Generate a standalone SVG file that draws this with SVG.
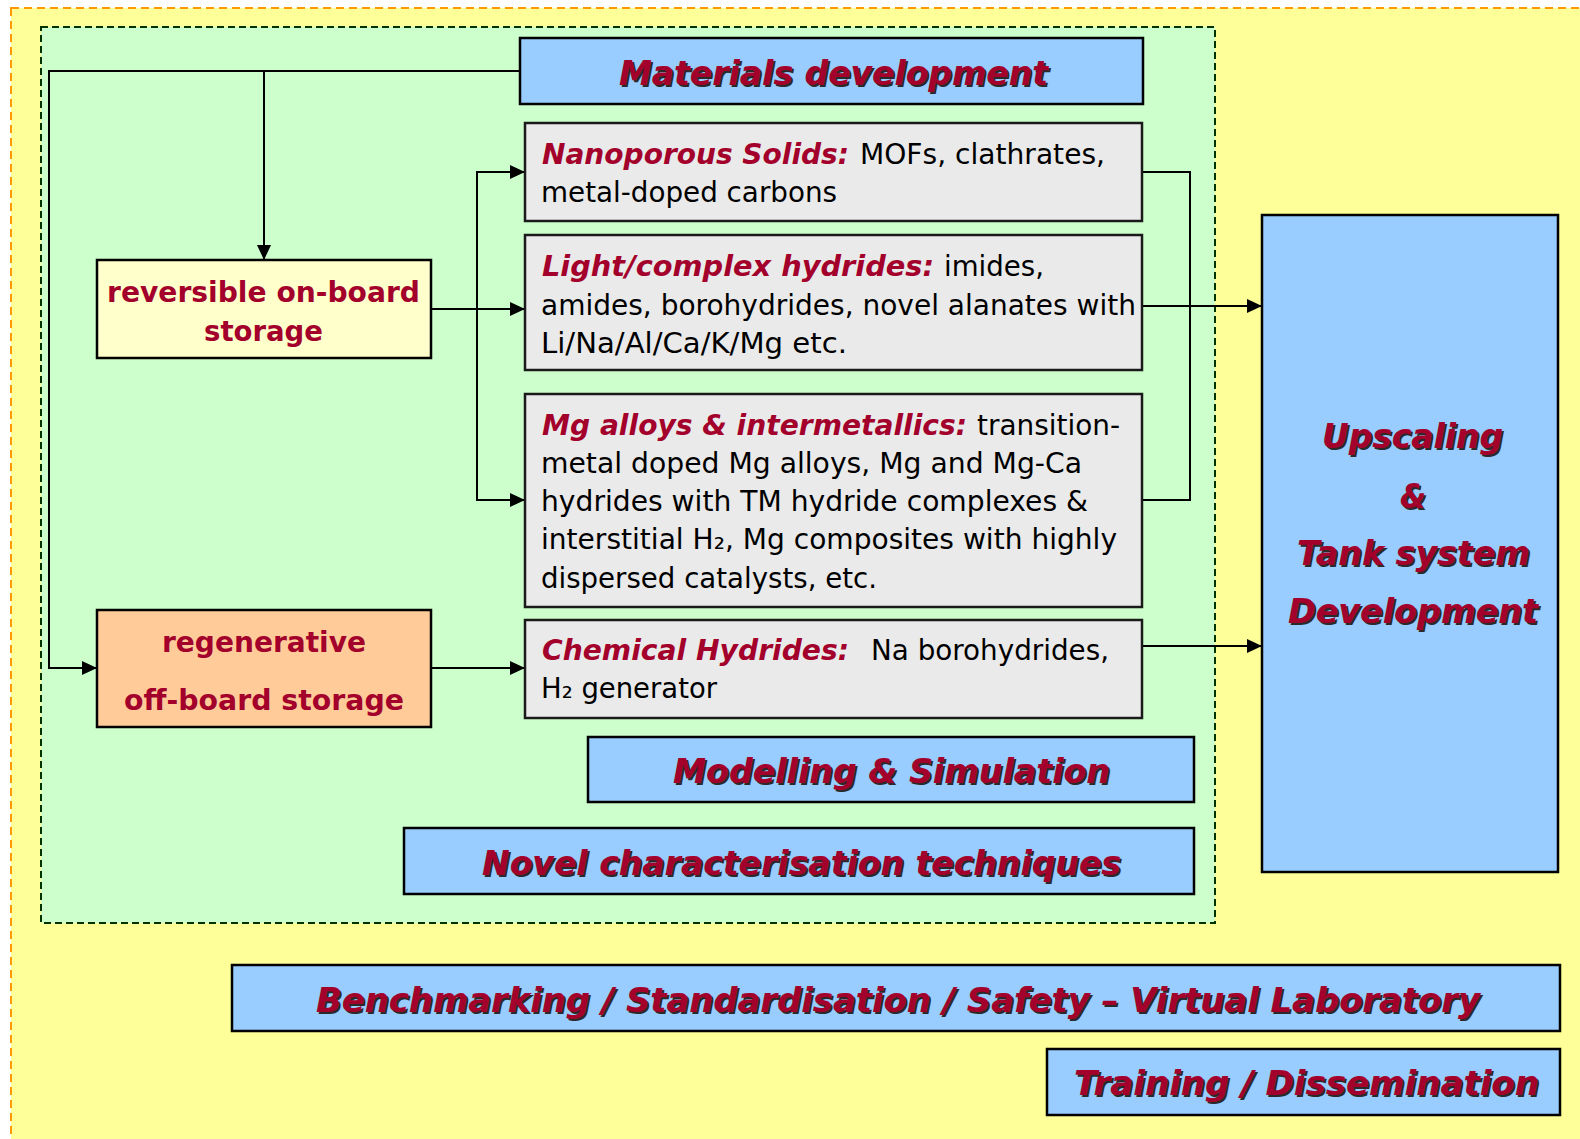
<svg xmlns="http://www.w3.org/2000/svg" width="1580" height="1139" viewBox="0 0 1580 1139">
<defs>
<marker id="arr" markerUnits="userSpaceOnUse" markerWidth="15" markerHeight="14" refX="15" refY="7" orient="auto">
<path d="M0,0 L15,7 L0,14 z" fill="#000"/>
</marker>
<style>
.box{stroke:#000;stroke-width:2.5}
.blue{fill:#99CCFF}
.gray{fill:#EAEAEA;stroke:#1a1a1a;stroke-width:2.5}
.title{font-family:"DejaVu Sans","Liberation Sans",sans-serif;font-weight:bold;font-style:italic;font-size:34px}
.red{fill:#A3002B}
.shadow{fill:#2a2a2a}
.head{font-family:"DejaVu Sans","Liberation Sans",sans-serif;font-weight:bold;font-style:italic;font-size:29px;fill:#A3002B}
.body{font-family:"DejaVu Sans","Liberation Sans",sans-serif;font-size:29px;fill:#000}
.store{font-family:"DejaVu Sans","Liberation Sans",sans-serif;font-weight:bold;font-size:29px;fill:#A3002B}
.conn{fill:none;stroke:#000;stroke-width:2}
</style>
</defs>
<rect x="0" y="0" width="1580" height="1139" fill="#FFFFFF"/>
<rect id="outer" x="11" y="8" width="1600" height="1160" fill="#FFFF99" stroke="#FF9900" stroke-width="2" stroke-dasharray="8,5"/>
<rect id="inner" x="41" y="27" width="1174" height="896" fill="#CCFFCC" stroke="#003300" stroke-width="2" stroke-dasharray="7,4"/>

<g id="connectors">
<path class="conn" d="M520,71 H49 V668 H97" marker-end="url(#arr)"/>
<path class="conn" d="M264,71 V260" marker-end="url(#arr)"/>
<path class="conn" d="M431,309 H525" marker-end="url(#arr)"/>
<path class="conn" d="M477,309 V172 H525" marker-end="url(#arr)"/>
<path class="conn" d="M477,309 V500 H525" marker-end="url(#arr)"/>
<path class="conn" d="M1142,172 H1190 V500 H1142"/>
<path class="conn" d="M1142,306 H1262" marker-end="url(#arr)"/>
<path class="conn" d="M431,668 H525" marker-end="url(#arr)"/>
<path class="conn" d="M1142,646 H1262" marker-end="url(#arr)"/>
</g>

<g id="materials">
<rect class="box blue" x="520" y="38" width="623" height="66"/>
<text class="title shadow" x="621" y="87" textLength="429" lengthAdjust="spacingAndGlyphs">Materials development</text>
<text class="title red" x="619" y="85" textLength="429" lengthAdjust="spacingAndGlyphs">Materials development</text>
</g>

<g id="reversible">
<rect class="box" fill="#FFFFCC" x="97" y="260" width="334" height="98"/>
<text class="store" x="107" y="302" textLength="313" lengthAdjust="spacingAndGlyphs">reversible on-board</text>
<text class="store" x="204" y="341" textLength="119" lengthAdjust="spacingAndGlyphs">storage</text>
</g>

<g id="regenerative">
<rect class="box" fill="#FFCC99" x="97" y="610" width="334" height="117"/>
<text class="store" x="162" y="652" textLength="204" lengthAdjust="spacingAndGlyphs">regenerative</text>
<text class="store" x="124" y="710" textLength="280" lengthAdjust="spacingAndGlyphs">off-board storage</text>
</g>

<g id="nanoporous">
<rect class="gray" x="525" y="123" width="617" height="98"/>
<text class="head" x="542" y="164" textLength="307" lengthAdjust="spacingAndGlyphs">Nanoporous Solids:</text>
<text class="body" x="860" y="164" textLength="245" lengthAdjust="spacingAndGlyphs">MOFs, clathrates,</text>
<text class="body" x="541" y="202" textLength="296" lengthAdjust="spacingAndGlyphs">metal-doped carbons</text>
</g>

<g id="light">
<rect class="gray" x="525" y="235" width="617" height="135"/>
<text class="head" x="542" y="276" textLength="392" lengthAdjust="spacingAndGlyphs">Light/complex hydrides:</text>
<text class="body" x="944" y="276" textLength="100" lengthAdjust="spacingAndGlyphs">imides,</text>
<text class="body" x="541" y="315" textLength="595" lengthAdjust="spacingAndGlyphs">amides, borohydrides, novel alanates with</text>
<text class="body" x="541" y="353" textLength="306" lengthAdjust="spacingAndGlyphs">Li/Na/Al/Ca/K/Mg etc.</text>
</g>

<g id="mg">
<rect class="gray" x="525" y="394" width="617" height="213"/>
<text class="head" x="542" y="435" textLength="425" lengthAdjust="spacingAndGlyphs">Mg alloys &amp; intermetallics:</text>
<text class="body" x="977" y="435" textLength="143" lengthAdjust="spacingAndGlyphs">transition-</text>
<text class="body" x="541" y="473" textLength="541" lengthAdjust="spacingAndGlyphs">metal doped Mg alloys, Mg and Mg-Ca</text>
<text class="body" x="541" y="511" textLength="547" lengthAdjust="spacingAndGlyphs">hydrides with TM hydride complexes &amp;</text>
<text class="body" x="541" y="549" textLength="576" lengthAdjust="spacingAndGlyphs">interstitial H₂, Mg composites with highly</text>
<text class="body" x="541" y="588" textLength="336" lengthAdjust="spacingAndGlyphs">dispersed catalysts, etc.</text>
</g>

<g id="chemical">
<rect class="gray" x="525" y="620" width="617" height="98"/>
<text class="head" x="542" y="660" textLength="307" lengthAdjust="spacingAndGlyphs">Chemical Hydrides:</text>
<text class="body" x="871" y="660" textLength="238" lengthAdjust="spacingAndGlyphs">Na borohydrides,</text>
<text class="body" x="541" y="698" textLength="176" lengthAdjust="spacingAndGlyphs">H₂ generator</text>
</g>

<g id="modelling">
<rect class="box blue" x="588" y="737" width="606" height="65"/>
<text class="title shadow" x="675" y="785" textLength="437" lengthAdjust="spacingAndGlyphs">Modelling &amp; Simulation</text>
<text class="title red" x="673" y="783" textLength="437" lengthAdjust="spacingAndGlyphs">Modelling &amp; Simulation</text>
</g>

<g id="novel">
<rect class="box blue" x="404" y="828" width="790" height="66"/>
<text class="title shadow" x="484" y="877" textLength="639" lengthAdjust="spacingAndGlyphs">Novel characterisation techniques</text>
<text class="title red" x="482" y="875" textLength="639" lengthAdjust="spacingAndGlyphs">Novel characterisation techniques</text>
</g>

<g id="upscaling">
<rect class="box blue" x="1262" y="215" width="296" height="657"/>
<text class="title shadow" x="1324" y="450" font-size="36" textLength="181" lengthAdjust="spacingAndGlyphs">Upscaling</text>
<text class="title red" x="1322" y="448" font-size="36" textLength="181" lengthAdjust="spacingAndGlyphs">Upscaling</text>
<text class="title shadow" x="1402" y="510" font-size="36" textLength="26" lengthAdjust="spacingAndGlyphs">&amp;</text>
<text class="title red" x="1400" y="508" font-size="36" textLength="26" lengthAdjust="spacingAndGlyphs">&amp;</text>
<text class="title shadow" x="1299" y="567" font-size="36" textLength="233" lengthAdjust="spacingAndGlyphs">Tank system</text>
<text class="title red" x="1297" y="565" font-size="36" textLength="233" lengthAdjust="spacingAndGlyphs">Tank system</text>
<text class="title shadow" x="1290" y="625" font-size="36" textLength="250" lengthAdjust="spacingAndGlyphs">Development</text>
<text class="title red" x="1288" y="623" font-size="36" textLength="250" lengthAdjust="spacingAndGlyphs">Development</text>
</g>

<g id="benchmarking">
<rect class="box blue" x="232" y="965" width="1328" height="66"/>
<text class="title shadow" x="318" y="1014" textLength="1164" lengthAdjust="spacingAndGlyphs">Benchmarking / Standardisation / Safety – Virtual Laboratory</text>
<text class="title red" x="316" y="1012" textLength="1164" lengthAdjust="spacingAndGlyphs">Benchmarking / Standardisation / Safety – Virtual Laboratory</text>
</g>

<g id="training">
<rect class="box blue" x="1047" y="1049" width="513" height="66"/>
<text class="title shadow" x="1076" y="1097" textLength="465" lengthAdjust="spacingAndGlyphs">Training / Dissemination</text>
<text class="title red" x="1074" y="1095" textLength="465" lengthAdjust="spacingAndGlyphs">Training / Dissemination</text>
</g>
</svg>
